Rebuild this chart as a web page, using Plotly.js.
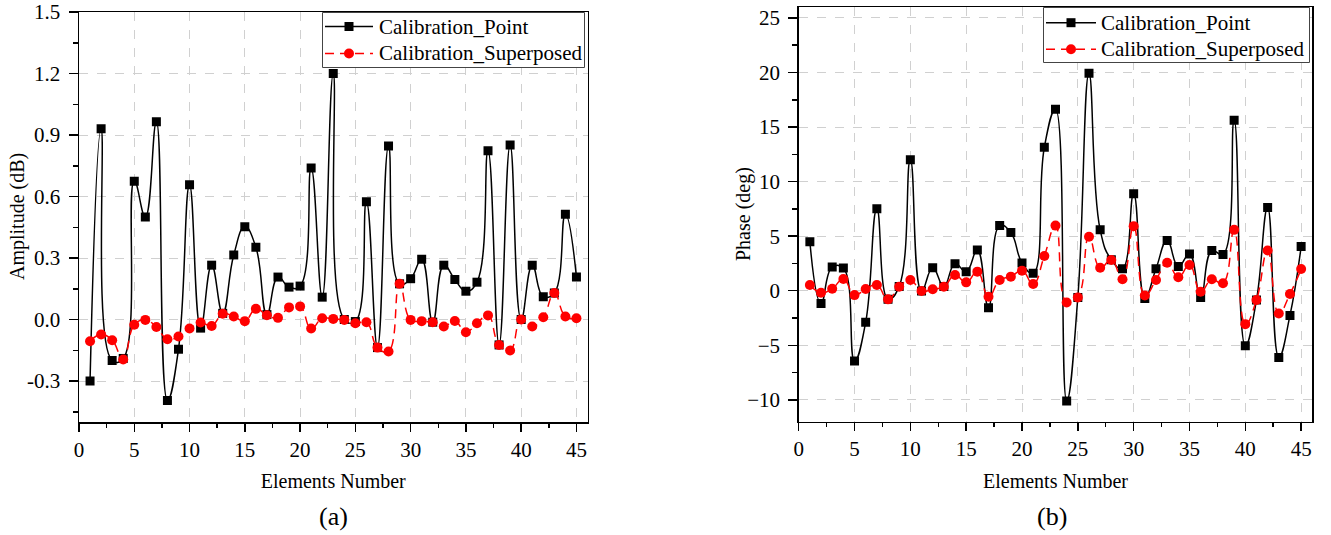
<!DOCTYPE html>
<html>
<head>
<meta charset="utf-8">
<script src="https://cdn.plot.ly/plotly-3.0.1.min.js"></script>
<style>html,body{margin:0;padding:0;background:#fff;}#chart{width:1331px;height:535px;}</style>
</head>
<body>
<div id="chart"></div>
<script>
const elements = [1,2,3,4,5,6,7,8,9,10,11,12,13,14,15,16,17,18,19,20,21,22,23,24,25,26,27,28,29,30,31,32,33,34,35,36,37,38,39,40,41,42,43,44,45];

const ampPoint = [-0.30,0.93,-0.20,-0.19,0.675,0.50,0.965,-0.395,-0.145,0.657,-0.042,0.265,0.03,0.315,0.452,0.353,0.024,0.207,0.158,0.163,0.739,0.109,1.20,0.0,-0.01,0.574,-0.137,0.846,0.174,0.199,0.294,-0.013,0.265,0.195,0.138,0.182,0.823,-0.124,0.851,0.0,0.265,0.111,0.129,0.513,0.207];
const ampSuper = [-0.106,-0.073,-0.101,-0.195,-0.026,-0.002,-0.037,-0.096,-0.083,-0.044,-0.015,-0.032,0.028,0.015,-0.008,0.052,0.021,0.008,0.059,0.064,-0.044,0.006,0.003,-0.002,-0.018,-0.013,-0.137,-0.156,0.174,-0.002,-0.008,-0.013,-0.034,-0.007,-0.062,-0.018,0.020,-0.124,-0.151,0.0,-0.034,0.011,0.129,0.015,0.006];

const phasePoint = [4.50,-1.16,2.18,2.09,-6.43,-2.88,7.51,-0.79,0.40,12.01,-0.03,2.11,0.40,2.48,1.75,3.74,-1.56,5.97,5.33,2.55,1.60,13.14,16.64,-10.11,-0.61,19.92,5.58,2.85,2.02,8.89,-0.70,2.02,4.60,2.21,3.37,-0.61,3.68,3.31,15.63,-5.05,-0.85,7.63,-6.12,-2.26,4.05];
const phaseSuper = [0.52,-0.18,0.18,1.08,-0.40,0.16,0.52,-0.79,0.37,0.98,-0.03,0.13,0.37,1.44,0.77,1.75,-0.55,0.98,1.29,1.84,0.62,3.19,5.97,-1.07,-0.61,4.94,2.11,2.82,1.05,5.92,-0.43,0.98,2.57,1.23,2.36,-0.09,1.05,0.68,5.58,-3.06,-0.85,3.68,-2.08,-0.30,1.99];

const xTicks = [0,5,10,15,20,25,30,35,40,45];
const ampTicks = [-0.3,0.0,0.3,0.6,0.9,1.2,1.5];
const ampTickText = ['-0.3','0.0','0.3','0.6','0.9','1.2','1.5'];
const phaseTicks = [-10,-5,0,5,10,15,20,25];

const seriesNames = ['Calibration_Point','Calibration_Superposed'];
const panelLabels = ['(a)','(b)'];
const xTitle = 'Elements Number';
const yTitles = ['Amplitude (dB)','Phase (deg)'];

const FONT = '"Times New Roman", "Liberation Serif", serif';
const W = 1331, H = 535;
const BLACK = '#000000', RED = '#ff0000', DASH = '9px,6px';

function pointTrace(x, y, xa, ya) {
  return {x:x, y:y, xaxis:xa, yaxis:ya, name:seriesNames[0], showlegend:false,
    type:'scatter', mode:'lines+markers',
    line:{color:BLACK, width:1.5, shape:'spline', smoothing:1.3},
    marker:{symbol:'square', size:9, color:BLACK}};
}
function superTrace(x, y, xa, ya) {
  return {x:x, y:y, xaxis:xa, yaxis:ya, name:seriesNames[1], showlegend:false,
    type:'scatter', mode:'lines+markers',
    line:{color:RED, width:1.5, dash:DASH, shape:'spline', smoothing:1.3},
    marker:{symbol:'circle', size:10, color:RED}};
}

const data = [
  pointTrace(elements, ampPoint, 'x', 'y'),
  superTrace(elements, ampSuper, 'x', 'y'),
  pointTrace(elements, phasePoint, 'x2', 'y2'),
  superTrace(elements, phaseSuper, 'x2', 'y2')
];

// helpers: pixel -> paper
const px = v => v / W;
const py = v => 1 - v / H;

// compact legend box (drawn as shapes + text), one per panel
function legendParts(box, rowY, lineX0, lineX1, textX) {
  const mx = (lineX0 + lineX1) / 2;
  const shapes = [
    {type:'rect', xref:'paper', yref:'paper', layer:'above',
     x0:px(box[0]), x1:px(box[1]), y0:py(box[2]), y1:py(box[3]),
     fillcolor:'#ffffff', line:{color:'#444', width:1}},
    {type:'line', xref:'paper', yref:'paper', layer:'above',
     x0:px(lineX0), x1:px(lineX1), y0:py(rowY[0]), y1:py(rowY[0]), line:{color:BLACK, width:1.5}},
    {type:'rect', xref:'paper', yref:'paper', layer:'above',
     x0:px(mx-4.5), x1:px(mx+4.5), y0:py(rowY[0]-4.5), y1:py(rowY[0]+4.5),
     fillcolor:BLACK, line:{width:0}},
    {type:'line', xref:'paper', yref:'paper', layer:'above',
     x0:px(lineX0), x1:px(lineX1), y0:py(rowY[1]), y1:py(rowY[1]), line:{color:RED, width:1.5, dash:DASH}},
    {type:'circle', xref:'paper', yref:'paper', layer:'above',
     x0:px(mx-5), x1:px(mx+5), y0:py(rowY[1]-5), y1:py(rowY[1]+5),
     fillcolor:RED, line:{width:0}}
  ];
  const annots = seriesNames.map((n, i) => ({
    text:n, xref:'paper', yref:'paper', x:px(textX), y:py(rowY[i]),
    xanchor:'left', yanchor:'middle', showarrow:false,
    font:{family:FONT, size:21, color:'#000'}
  }));
  return {shapes, annots};
}

const legA = legendParts([322.5, 584.5, 12.5, 67.5], [26.5, 53.5], 325, 373, 377);
const legB = legendParts([1043.5, 1309.5, 7.5, 62.5], [22.7, 49.3], 1046, 1096, 1099);

const minorCommonX = {ticks:'outside', ticklen:4, tickwidth:1.5, tickcolor:'#000', showgrid:false};
const minorCommonY = {ticks:'outside', ticklen:5, tickwidth:1.5, tickcolor:'#000', showgrid:false};
const axCommon = {
  showline:true, linecolor:'#000', linewidth:1.5, mirror:true,
  ticks:'outside', tickwidth:1.5, tickcolor:'#000',
  showgrid:true, gridcolor:'#d0d0d0', griddash:'dash', gridwidth:1,
  zeroline:false,
  tickfont:{family:FONT, size:21, color:'#000'}
};
const xMinor = [2.5,7.5,12.5,17.5,22.5,27.5,32.5,37.5,42.5];

function yTitle(text, x, yc) {
  return {text:text, xref:'paper', yref:'paper', x:px(x), y:py(yc), textangle:-90,
    xanchor:'center', yanchor:'middle', showarrow:false,
    font:{family:FONT, size:20, color:'#000'}};
}

const layout = {
  width:W, height:H,
  margin:{l:0, r:0, t:0, b:0},
  paper_bgcolor:'#fff', plot_bgcolor:'#fff',
  font:{family:FONT, color:'#000'},
  showlegend:false,
  xaxis: Object.assign({}, axCommon, {
    domain:[px(79), px(587.5)], anchor:'y', range:[0,46], ticklen:8,
    tickvals:xTicks,
    minor:Object.assign({tickvals:xMinor}, minorCommonX),
    title:{text:xTitle, font:{family:FONT, size:20, color:'#000'}, standoff:13}
  }),
  yaxis: Object.assign({}, axCommon, {
    domain:[py(422), py(12)], anchor:'x', range:[-0.5,1.5], ticklen:9, ticklabelstandoff:4,
    tickvals:ampTicks, ticktext:ampTickText,
    minor:Object.assign({tickvals:[-0.45,-0.15,0.15,0.45,0.75,1.05,1.35]}, minorCommonY)
  }),
  xaxis2: Object.assign({}, axCommon, {
    domain:[px(798.7), px(1312.3)], anchor:'y2', range:[0,46], ticklen:8,
    tickvals:xTicks,
    minor:Object.assign({tickvals:xMinor}, minorCommonX),
    title:{text:xTitle, font:{family:FONT, size:20, color:'#000'}, standoff:13}
  }),
  yaxis2: Object.assign({}, axCommon, {
    domain:[py(421.7), py(7)], anchor:'x2', range:[-12,26], ticklen:9, ticklabelstandoff:4,
    tickvals:phaseTicks,
    minor:Object.assign({tickvals:[-7.5,-2.5,2.5,7.5,12.5,17.5,22.5]}, minorCommonY)
  }),
  shapes: legA.shapes.concat(legB.shapes),
  annotations: legA.annots.concat(legB.annots).concat([
    yTitle(yTitles[0], 17, 217),
    yTitle(yTitles[1], 743, 214),
    {text:panelLabels[0], xref:'paper', yref:'paper', x:px(333), y:py(516), xanchor:'center', yanchor:'middle', showarrow:false, font:{family:FONT, size:26, color:'#000'}},
    {text:panelLabels[1], xref:'paper', yref:'paper', x:px(1052), y:py(516), xanchor:'center', yanchor:'middle', showarrow:false, font:{family:FONT, size:26, color:'#000'}}
  ])
};

Plotly.newPlot('chart', data, layout, {displayModeBar:false, staticPlot:true});
</script>
</body>
</html>
